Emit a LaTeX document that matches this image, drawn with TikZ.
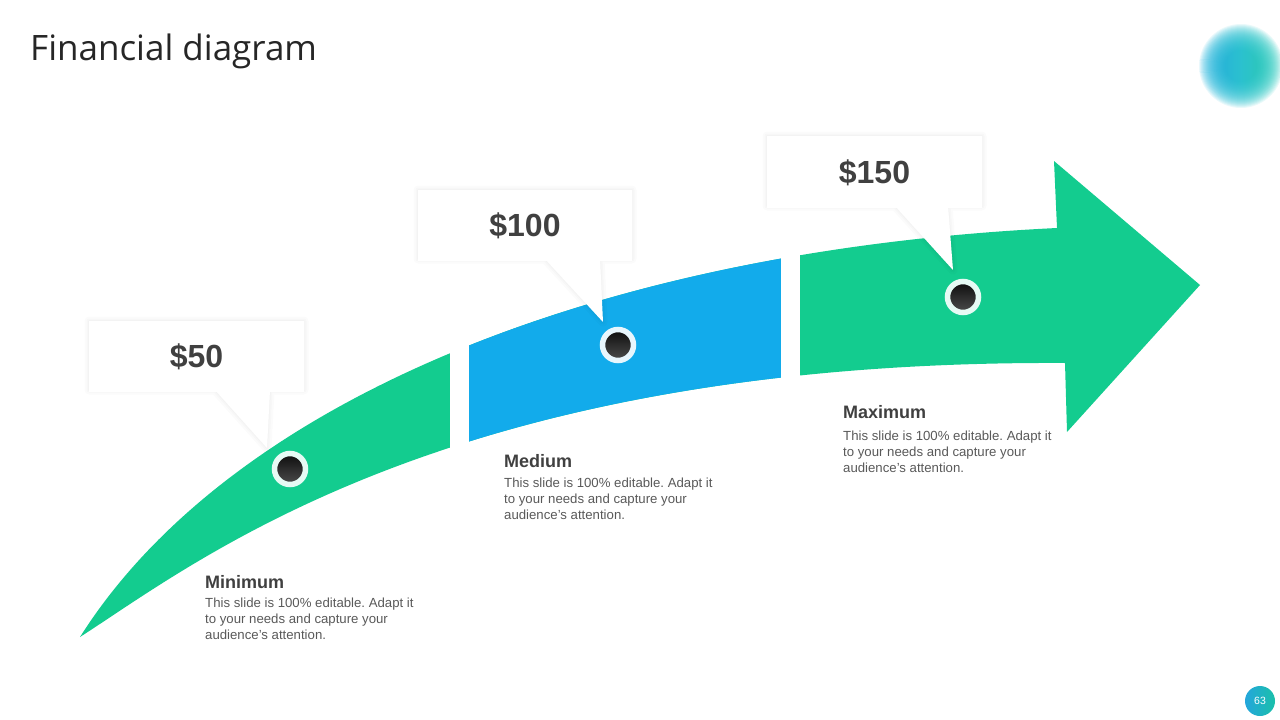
\documentclass[tikz,border=0pt]{standalone}
\usepackage{fontspec}
\setmainfont{Liberation Sans}
\newfontfamily\titlefont{Open Sans}
\definecolor{arrowgreen}{RGB}{19,204,143}
\definecolor{arrowblue}{RGB}{18,171,235}
\definecolor{valtext}{RGB}{64,64,64}
\definecolor{headtext}{RGB}{64,64,64}
\definecolor{bodytext}{RGB}{89,89,89}
\definecolor{titletext}{RGB}{38,38,38}
\definecolor{ringgreen}{RGB}{230,250,244}
\definecolor{ringblue}{RGB}{232,246,253}
\definecolor{blobblue}{RGB}{22,176,220}
\definecolor{blobteal}{RGB}{28,200,185}
\definecolor{pgblue}{RGB}{36,166,220}
\definecolor{pgteal}{RGB}{26,192,170}
\def\arrowpath{(80,637) .. controls (230,400) and (600,250) .. (1057,228) -- (1054,161) -- (1200,285) -- (1067,432) -- (1065,363) .. controls (450,360) and (200,560) .. (80,637) -- cycle}
\def\shapeone{(89,321) -- (304,321) -- (304,390) -- (270,390) -- (267,448) -- (215,390) -- (89,390) -- cycle}
\def\shapetwo{(418,190) -- (632,190) -- (632,259) -- (600,259) -- (603,322) -- (545,259) -- (418,259) -- cycle}
\def\shapethree{(767,136) -- (982,136) -- (982,206) -- (948,206) -- (953,270) -- (895,206) -- (767,206) -- cycle}
\begin{document}
\frenchspacing
\begin{tikzpicture}[x=1pt,y=-1pt,
  valuebox/.style={fill=white, minimum width=215pt, minimum height=69pt, inner sep=0pt,
    font=\fontsize{32}{36}\selectfont\bfseries, text=valtext},
  shadowa/.style={draw=black, draw opacity=0.014, line width=9pt, line join=round},
  shadowb/.style={draw=black, draw opacity=0.016, line width=5pt, line join=round},
  shadowc/.style={draw=black, draw opacity=0.016, line width=2pt, line join=round},
  dotmark/.style={circle, minimum size=31pt, inner sep=0pt, top color=black!95, bottom color=black!70, line width=5.5pt},
  headlabel/.style={anchor=base west, inner sep=0pt, font=\fontsize{18}{22}\selectfont\bfseries, text=headtext},
  bodylabel/.style={anchor=north west, inner sep=0pt, align=left, font=\fontsize{13.2}{16}\selectfont, text=bodytext}]
\useasboundingbox (0,0) rectangle (1280,720);
% title
\node[anchor=base west, inner sep=0pt, font=\titlefont\fontsize{35}{40}\selectfont, text=titletext] (title) at (30,60) {Financial diagram};
% blurred blob
\foreach \r in {42,41,...,16} {
  \shade[left color=blobblue, right color=blobteal, opacity=0.09] (1241,66) circle (\r pt);
}
% arrow
\fill[arrowgreen] \arrowpath;
\begin{scope}
  \clip (469,0) rectangle (781,720);
  \fill[arrowblue] \arrowpath;
\end{scope}
\fill[white] (450,150) rectangle (469,520);
\fill[white] (781,150) rectangle (800,520);
% callouts
\foreach \s in {\shapeone,\shapetwo,\shapethree} {
  \path[shadowa] \s;
  \path[shadowb] \s;
  \path[shadowc] \s;
  \fill[white] \s;
}
\node[valuebox] (v1) at (196.5,357) {\$50};
\node[valuebox, minimum width=214pt] (v2) at (525,226) {\$100};
\node[valuebox, minimum height=70pt] (v3) at (874.5,172.5) {\$150};
% dots
\node[dotmark, draw=ringgreen] (d1) at (290,469) {};
\node[dotmark, draw=ringblue] (d2) at (618,345) {};
\node[dotmark, draw=ringgreen] (d3) at (963,297) {};
% labels
\node[headlabel] (h1) at (205,588) {Minimum};
\node[bodylabel] (b1) at (205,598) {This slide is 100\% editable. Adapt it\\to your needs and capture your\\audience's attention.};
\node[headlabel] (h2) at (504,467) {Medium};
\node[bodylabel] (b2) at (504,478) {This slide is 100\% editable. Adapt it\\to your needs and capture your\\audience's attention.};
\node[headlabel] (h3) at (843,418) {Maximum};
\node[bodylabel] (b3) at (843,431) {This slide is 100\% editable. Adapt it\\to your needs and capture your\\audience's attention.};
% page number
\node[circle, minimum size=30pt, inner sep=0pt, left color=pgblue, right color=pgteal, text=white, font=\fontsize{10.5}{12}\selectfont] (pg) at (1260,701) {63};
\end{tikzpicture}
\end{document}
